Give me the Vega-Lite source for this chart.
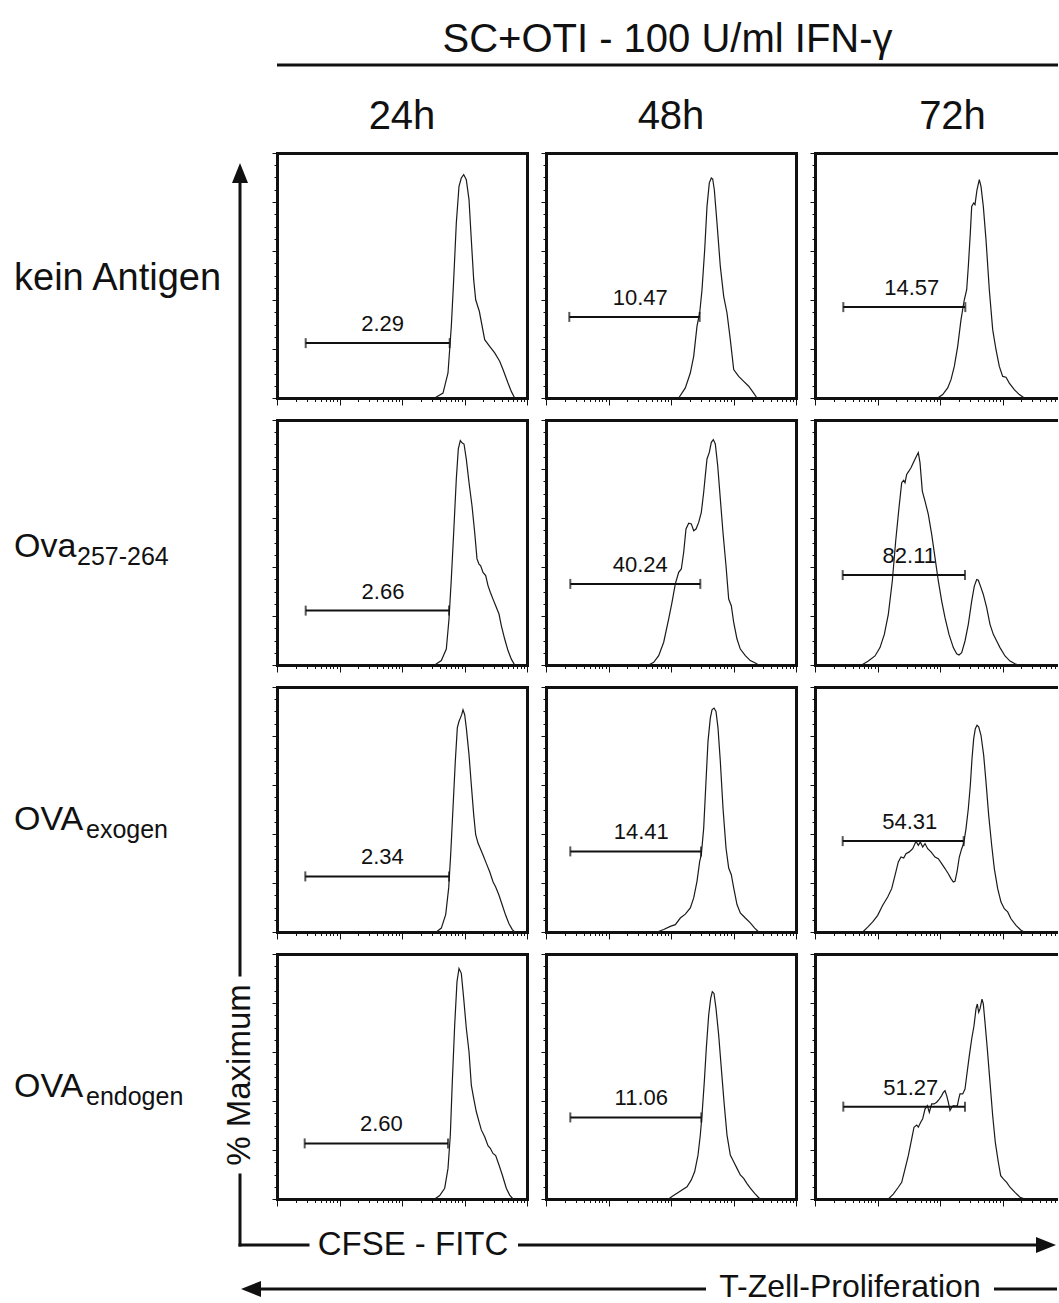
{
"$schema": "https://vega.github.io/schema/vega-lite/v6.json",
"background": "white",
"padding": 0,
"bounds": "flush",
"spacing": 0,
"config": {
  "font": "Liberation Sans",
  "view": {"stroke": null},
  "axis": {"grid": false, "labels": false, "domainColor": "#111", "domainWidth": 3, "domainCap": "square", "tickColor": "#111", "tickWidth": 1},
  "title": {"fontSize": 40, "fontWeight": "normal", "color": "#111", "anchor": "middle", "frame": "group", "baseline": "alphabetic", "offset": 16}
},
"datasets": {
"hist": [
{"cond":"kein","time":"24h","cfse_log":2.523,"pct":0},{"cond":"kein","time":"24h","cfse_log":2.656,"pct":2.0},{"cond":"kein","time":"24h","cfse_log":2.736,"pct":10.2},{"cond":"kein","time":"24h","cfse_log":2.789,"pct":29.3},{"cond":"kein","time":"24h","cfse_log":2.827,"pct":48.3},{"cond":"kein","time":"24h","cfse_log":2.869,"pct":71.4},{"cond":"kein","time":"24h","cfse_log":2.912,"pct":86.4},{"cond":"kein","time":"24h","cfse_log":2.949,"pct":89.8},{"cond":"kein","time":"24h","cfse_log":2.987,"pct":91.2},{"cond":"kein","time":"24h","cfse_log":3.029,"pct":89.1},{"cond":"kein","time":"24h","cfse_log":3.072,"pct":81.0},{"cond":"kein","time":"24h","cfse_log":3.109,"pct":64.6},{"cond":"kein","time":"24h","cfse_log":3.147,"pct":48.3},{"cond":"kein","time":"24h","cfse_log":3.179,"pct":40.1},{"cond":"kein","time":"24h","cfse_log":3.237,"pct":35.4},{"cond":"kein","time":"24h","cfse_log":3.323,"pct":23.8},{"cond":"kein","time":"24h","cfse_log":3.403,"pct":21.1},{"cond":"kein","time":"24h","cfse_log":3.483,"pct":18.4},{"cond":"kein","time":"24h","cfse_log":3.563,"pct":15.0},{"cond":"kein","time":"24h","cfse_log":3.616,"pct":11.6},{"cond":"kein","time":"24h","cfse_log":3.696,"pct":6.1},{"cond":"kein","time":"24h","cfse_log":3.749,"pct":2.7},{"cond":"kein","time":"24h","cfse_log":3.803,"pct":0},
{"cond":"kein","time":"48h","cfse_log":2.123,"pct":0},{"cond":"kein","time":"48h","cfse_log":2.229,"pct":4.1},{"cond":"kein","time":"48h","cfse_log":2.309,"pct":10.2},{"cond":"kein","time":"48h","cfse_log":2.363,"pct":17.0},{"cond":"kein","time":"48h","cfse_log":2.416,"pct":29.3},{"cond":"kein","time":"48h","cfse_log":2.459,"pct":34.7},{"cond":"kein","time":"48h","cfse_log":2.496,"pct":44.2},{"cond":"kein","time":"48h","cfse_log":2.539,"pct":60.5},{"cond":"kein","time":"48h","cfse_log":2.576,"pct":78.2},{"cond":"kein","time":"48h","cfse_log":2.613,"pct":87.8},{"cond":"kein","time":"48h","cfse_log":2.645,"pct":89.8},{"cond":"kein","time":"48h","cfse_log":2.667,"pct":89.4},{"cond":"kein","time":"48h","cfse_log":2.693,"pct":85.0},{"cond":"kein","time":"48h","cfse_log":2.736,"pct":71.4},{"cond":"kein","time":"48h","cfse_log":2.789,"pct":53.7},{"cond":"kein","time":"48h","cfse_log":2.843,"pct":41.5},{"cond":"kein","time":"48h","cfse_log":2.896,"pct":34.7},{"cond":"kein","time":"48h","cfse_log":2.949,"pct":23.8},{"cond":"kein","time":"48h","cfse_log":3.003,"pct":11.6},{"cond":"kein","time":"48h","cfse_log":3.083,"pct":8.8},{"cond":"kein","time":"48h","cfse_log":3.163,"pct":6.8},{"cond":"kein","time":"48h","cfse_log":3.243,"pct":4.8},{"cond":"kein","time":"48h","cfse_log":3.323,"pct":2.0},{"cond":"kein","time":"48h","cfse_log":3.376,"pct":0},
{"cond":"kein","time":"72h","cfse_log":1.963,"pct":0},{"cond":"kein","time":"72h","cfse_log":2.043,"pct":1.4},{"cond":"kein","time":"72h","cfse_log":2.123,"pct":4.1},{"cond":"kein","time":"72h","cfse_log":2.176,"pct":7.5},{"cond":"kein","time":"72h","cfse_log":2.229,"pct":12.9},{"cond":"kein","time":"72h","cfse_log":2.283,"pct":21.1},{"cond":"kein","time":"72h","cfse_log":2.336,"pct":32.0},{"cond":"kein","time":"72h","cfse_log":2.389,"pct":40.1},{"cond":"kein","time":"72h","cfse_log":2.427,"pct":44.2},{"cond":"kein","time":"72h","cfse_log":2.453,"pct":53.7},{"cond":"kein","time":"72h","cfse_log":2.485,"pct":67.3},{"cond":"kein","time":"72h","cfse_log":2.507,"pct":78.2},{"cond":"kein","time":"72h","cfse_log":2.539,"pct":79.6},{"cond":"kein","time":"72h","cfse_log":2.560,"pct":78.9},{"cond":"kein","time":"72h","cfse_log":2.592,"pct":85.0},{"cond":"kein","time":"72h","cfse_log":2.629,"pct":89.1},{"cond":"kein","time":"72h","cfse_log":2.656,"pct":86.4},{"cond":"kein","time":"72h","cfse_log":2.693,"pct":78.2},{"cond":"kein","time":"72h","cfse_log":2.736,"pct":64.6},{"cond":"kein","time":"72h","cfse_log":2.789,"pct":44.2},{"cond":"kein","time":"72h","cfse_log":2.843,"pct":27.9},{"cond":"kein","time":"72h","cfse_log":2.896,"pct":19.7},{"cond":"kein","time":"72h","cfse_log":2.949,"pct":12.9},{"cond":"kein","time":"72h","cfse_log":3.003,"pct":8.8},{"cond":"kein","time":"72h","cfse_log":3.056,"pct":8.5},{"cond":"kein","time":"72h","cfse_log":3.109,"pct":6.1},{"cond":"kein","time":"72h","cfse_log":3.189,"pct":3.4},{"cond":"kein","time":"72h","cfse_log":3.269,"pct":1.4},{"cond":"kein","time":"72h","cfse_log":3.349,"pct":0},
{"cond":"ova","time":"24h","cfse_log":2.523,"pct":0},{"cond":"ova","time":"24h","cfse_log":2.629,"pct":1.8},{"cond":"ova","time":"24h","cfse_log":2.709,"pct":6.5},{"cond":"ova","time":"24h","cfse_log":2.752,"pct":18.8},{"cond":"ova","time":"24h","cfse_log":2.789,"pct":35.1},{"cond":"ova","time":"24h","cfse_log":2.827,"pct":54.1},{"cond":"ova","time":"24h","cfse_log":2.869,"pct":75.9},{"cond":"ova","time":"24h","cfse_log":2.901,"pct":88.2},{"cond":"ova","time":"24h","cfse_log":2.933,"pct":91.6},{"cond":"ova","time":"24h","cfse_log":2.965,"pct":90.6},{"cond":"ova","time":"24h","cfse_log":2.992,"pct":90.2},{"cond":"ova","time":"24h","cfse_log":3.029,"pct":84.0},{"cond":"ova","time":"24h","cfse_log":3.072,"pct":74.5},{"cond":"ova","time":"24h","cfse_log":3.120,"pct":65.0},{"cond":"ova","time":"24h","cfse_log":3.163,"pct":54.1},{"cond":"ova","time":"24h","cfse_log":3.200,"pct":43.3},{"cond":"ova","time":"24h","cfse_log":3.232,"pct":41.2},{"cond":"ova","time":"24h","cfse_log":3.259,"pct":40.5},{"cond":"ova","time":"24h","cfse_log":3.296,"pct":37.8},{"cond":"ova","time":"24h","cfse_log":3.339,"pct":36.5},{"cond":"ova","time":"24h","cfse_log":3.376,"pct":32.4},{"cond":"ova","time":"24h","cfse_log":3.413,"pct":29.7},{"cond":"ova","time":"24h","cfse_log":3.456,"pct":26.9},{"cond":"ova","time":"24h","cfse_log":3.499,"pct":24.2},{"cond":"ova","time":"24h","cfse_log":3.552,"pct":20.8},{"cond":"ova","time":"24h","cfse_log":3.589,"pct":16.1},{"cond":"ova","time":"24h","cfse_log":3.643,"pct":10.6},{"cond":"ova","time":"24h","cfse_log":3.696,"pct":5.9},{"cond":"ova","time":"24h","cfse_log":3.749,"pct":2.4},{"cond":"ova","time":"24h","cfse_log":3.803,"pct":0},
{"cond":"ova","time":"48h","cfse_log":1.643,"pct":0},{"cond":"ova","time":"48h","cfse_log":1.723,"pct":1.1},{"cond":"ova","time":"48h","cfse_log":1.803,"pct":3.8},{"cond":"ova","time":"48h","cfse_log":1.883,"pct":9.3},{"cond":"ova","time":"48h","cfse_log":1.963,"pct":18.8},{"cond":"ova","time":"48h","cfse_log":2.016,"pct":25.6},{"cond":"ova","time":"48h","cfse_log":2.069,"pct":33.1},{"cond":"ova","time":"48h","cfse_log":2.123,"pct":37.8},{"cond":"ova","time":"48h","cfse_log":2.165,"pct":39.2},{"cond":"ova","time":"48h","cfse_log":2.203,"pct":46.0},{"cond":"ova","time":"48h","cfse_log":2.240,"pct":55.5},{"cond":"ova","time":"48h","cfse_log":2.283,"pct":57.9},{"cond":"ova","time":"48h","cfse_log":2.325,"pct":57.6},{"cond":"ova","time":"48h","cfse_log":2.363,"pct":54.8},{"cond":"ova","time":"48h","cfse_log":2.400,"pct":55.5},{"cond":"ova","time":"48h","cfse_log":2.443,"pct":58.2},{"cond":"ova","time":"48h","cfse_log":2.485,"pct":62.3},{"cond":"ova","time":"48h","cfse_log":2.523,"pct":70.5},{"cond":"ova","time":"48h","cfse_log":2.549,"pct":77.3},{"cond":"ova","time":"48h","cfse_log":2.576,"pct":84.1},{"cond":"ova","time":"48h","cfse_log":2.613,"pct":86.8},{"cond":"ova","time":"48h","cfse_log":2.645,"pct":90.9},{"cond":"ova","time":"48h","cfse_log":2.677,"pct":92.0},{"cond":"ova","time":"48h","cfse_log":2.709,"pct":90.2},{"cond":"ova","time":"48h","cfse_log":2.747,"pct":81.4},{"cond":"ova","time":"48h","cfse_log":2.789,"pct":67.8},{"cond":"ova","time":"48h","cfse_log":2.832,"pct":54.1},{"cond":"ova","time":"48h","cfse_log":2.880,"pct":40.5},{"cond":"ova","time":"48h","cfse_log":2.923,"pct":26.9},{"cond":"ova","time":"48h","cfse_log":2.965,"pct":24.2},{"cond":"ova","time":"48h","cfse_log":3.003,"pct":17.4},{"cond":"ova","time":"48h","cfse_log":3.056,"pct":10.6},{"cond":"ova","time":"48h","cfse_log":3.109,"pct":6.5},{"cond":"ova","time":"48h","cfse_log":3.189,"pct":3.8},{"cond":"ova","time":"48h","cfse_log":3.269,"pct":1.8},{"cond":"ova","time":"48h","cfse_log":3.349,"pct":0.8},{"cond":"ova","time":"48h","cfse_log":3.403,"pct":0},
{"cond":"ova","time":"72h","cfse_log":0.747,"pct":0},{"cond":"ova","time":"72h","cfse_log":0.853,"pct":1.6},{"cond":"ova","time":"72h","cfse_log":0.960,"pct":3.7},{"cond":"ova","time":"72h","cfse_log":1.040,"pct":7.1},{"cond":"ova","time":"72h","cfse_log":1.109,"pct":12.5},{"cond":"ova","time":"72h","cfse_log":1.173,"pct":20.7},{"cond":"ova","time":"72h","cfse_log":1.237,"pct":34.3},{"cond":"ova","time":"72h","cfse_log":1.291,"pct":50.6},{"cond":"ova","time":"72h","cfse_log":1.344,"pct":64.2},{"cond":"ova","time":"72h","cfse_log":1.387,"pct":74.4},{"cond":"ova","time":"72h","cfse_log":1.419,"pct":75.4},{"cond":"ova","time":"72h","cfse_log":1.440,"pct":74.4},{"cond":"ova","time":"72h","cfse_log":1.467,"pct":77.8},{"cond":"ova","time":"72h","cfse_log":1.504,"pct":79.2},{"cond":"ova","time":"72h","cfse_log":1.536,"pct":80.5},{"cond":"ova","time":"72h","cfse_log":1.573,"pct":82.6},{"cond":"ova","time":"72h","cfse_log":1.611,"pct":84.6},{"cond":"ova","time":"72h","cfse_log":1.653,"pct":86.7},{"cond":"ova","time":"72h","cfse_log":1.680,"pct":82.6},{"cond":"ova","time":"72h","cfse_log":1.717,"pct":71.0},{"cond":"ova","time":"72h","cfse_log":1.760,"pct":66.9},{"cond":"ova","time":"72h","cfse_log":1.813,"pct":61.5},{"cond":"ova","time":"72h","cfse_log":1.867,"pct":53.3},{"cond":"ova","time":"72h","cfse_log":1.920,"pct":43.8},{"cond":"ova","time":"72h","cfse_log":1.973,"pct":34.3},{"cond":"ova","time":"72h","cfse_log":2.027,"pct":26.1},{"cond":"ova","time":"72h","cfse_log":2.080,"pct":19.3},{"cond":"ova","time":"72h","cfse_log":2.144,"pct":12.5},{"cond":"ova","time":"72h","cfse_log":2.213,"pct":7.1},{"cond":"ova","time":"72h","cfse_log":2.267,"pct":4.6},{"cond":"ova","time":"72h","cfse_log":2.304,"pct":4.1},{"cond":"ova","time":"72h","cfse_log":2.347,"pct":5.0},{"cond":"ova","time":"72h","cfse_log":2.400,"pct":9.8},{"cond":"ova","time":"72h","cfse_log":2.453,"pct":16.6},{"cond":"ova","time":"72h","cfse_log":2.507,"pct":26.1},{"cond":"ova","time":"72h","cfse_log":2.549,"pct":32.2},{"cond":"ova","time":"72h","cfse_log":2.587,"pct":34.9},{"cond":"ova","time":"72h","cfse_log":2.613,"pct":34.6},{"cond":"ova","time":"72h","cfse_log":2.656,"pct":31.6},{"cond":"ova","time":"72h","cfse_log":2.693,"pct":28.8},{"cond":"ova","time":"72h","cfse_log":2.747,"pct":23.4},{"cond":"ova","time":"72h","cfse_log":2.800,"pct":16.6},{"cond":"ova","time":"72h","cfse_log":2.853,"pct":12.5},{"cond":"ova","time":"72h","cfse_log":2.907,"pct":9.8},{"cond":"ova","time":"72h","cfse_log":2.960,"pct":7.1},{"cond":"ova","time":"72h","cfse_log":3.040,"pct":3.7},{"cond":"ova","time":"72h","cfse_log":3.120,"pct":1.6},{"cond":"ova","time":"72h","cfse_log":3.200,"pct":0.5},{"cond":"ova","time":"72h","cfse_log":3.253,"pct":0},
{"cond":"exo","time":"24h","cfse_log":2.549,"pct":0},{"cond":"exo","time":"24h","cfse_log":2.629,"pct":1.6},{"cond":"exo","time":"24h","cfse_log":2.699,"pct":7.1},{"cond":"exo","time":"24h","cfse_log":2.747,"pct":18.0},{"cond":"exo","time":"24h","cfse_log":2.779,"pct":31.6},{"cond":"exo","time":"24h","cfse_log":2.816,"pct":50.6},{"cond":"exo","time":"24h","cfse_log":2.853,"pct":69.7},{"cond":"exo","time":"24h","cfse_log":2.885,"pct":83.3},{"cond":"exo","time":"24h","cfse_log":2.912,"pct":86.0},{"cond":"exo","time":"24h","cfse_log":2.933,"pct":87.3},{"cond":"exo","time":"24h","cfse_log":2.955,"pct":88.7},{"cond":"exo","time":"24h","cfse_log":2.976,"pct":90.7},{"cond":"exo","time":"24h","cfse_log":3.003,"pct":88.7},{"cond":"exo","time":"24h","cfse_log":3.029,"pct":83.3},{"cond":"exo","time":"24h","cfse_log":3.072,"pct":72.4},{"cond":"exo","time":"24h","cfse_log":3.109,"pct":60.1},{"cond":"exo","time":"24h","cfse_log":3.147,"pct":47.9},{"cond":"exo","time":"24h","cfse_log":3.179,"pct":39.7},{"cond":"exo","time":"24h","cfse_log":3.216,"pct":36.3},{"cond":"exo","time":"24h","cfse_log":3.253,"pct":34.1},{"cond":"exo","time":"24h","cfse_log":3.296,"pct":31.4},{"cond":"exo","time":"24h","cfse_log":3.349,"pct":28.0},{"cond":"exo","time":"24h","cfse_log":3.403,"pct":24.6},{"cond":"exo","time":"24h","cfse_log":3.456,"pct":20.5},{"cond":"exo","time":"24h","cfse_log":3.499,"pct":18.4},{"cond":"exo","time":"24h","cfse_log":3.552,"pct":15.0},{"cond":"exo","time":"24h","cfse_log":3.605,"pct":10.9},{"cond":"exo","time":"24h","cfse_log":3.659,"pct":6.8},{"cond":"exo","time":"24h","cfse_log":3.712,"pct":3.4},{"cond":"exo","time":"24h","cfse_log":3.765,"pct":1.0},{"cond":"exo","time":"24h","cfse_log":3.803,"pct":0},
{"cond":"exo","time":"48h","cfse_log":1.776,"pct":0},{"cond":"exo","time":"48h","cfse_log":1.883,"pct":1.0},{"cond":"exo","time":"48h","cfse_log":1.989,"pct":2.3},{"cond":"exo","time":"48h","cfse_log":2.069,"pct":3.0},{"cond":"exo","time":"48h","cfse_log":2.149,"pct":5.7},{"cond":"exo","time":"48h","cfse_log":2.229,"pct":7.3},{"cond":"exo","time":"48h","cfse_log":2.309,"pct":9.8},{"cond":"exo","time":"48h","cfse_log":2.363,"pct":13.9},{"cond":"exo","time":"48h","cfse_log":2.416,"pct":20.7},{"cond":"exo","time":"48h","cfse_log":2.459,"pct":28.8},{"cond":"exo","time":"48h","cfse_log":2.485,"pct":31.6},{"cond":"exo","time":"48h","cfse_log":2.523,"pct":42.4},{"cond":"exo","time":"48h","cfse_log":2.560,"pct":61.5},{"cond":"exo","time":"48h","cfse_log":2.592,"pct":77.8},{"cond":"exo","time":"48h","cfse_log":2.629,"pct":87.3},{"cond":"exo","time":"48h","cfse_log":2.656,"pct":90.7},{"cond":"exo","time":"48h","cfse_log":2.688,"pct":91.4},{"cond":"exo","time":"48h","cfse_log":2.720,"pct":90.0},{"cond":"exo","time":"48h","cfse_log":2.752,"pct":83.3},{"cond":"exo","time":"48h","cfse_log":2.789,"pct":69.7},{"cond":"exo","time":"48h","cfse_log":2.832,"pct":50.6},{"cond":"exo","time":"48h","cfse_log":2.880,"pct":34.3},{"cond":"exo","time":"48h","cfse_log":2.923,"pct":26.1},{"cond":"exo","time":"48h","cfse_log":2.965,"pct":23.4},{"cond":"exo","time":"48h","cfse_log":3.003,"pct":18.0},{"cond":"exo","time":"48h","cfse_log":3.056,"pct":11.2},{"cond":"exo","time":"48h","cfse_log":3.109,"pct":7.8},{"cond":"exo","time":"48h","cfse_log":3.189,"pct":5.7},{"cond":"exo","time":"48h","cfse_log":3.269,"pct":3.7},{"cond":"exo","time":"48h","cfse_log":3.339,"pct":1.6},{"cond":"exo","time":"48h","cfse_log":3.403,"pct":0},
{"cond":"exo","time":"72h","cfse_log":0.763,"pct":0},{"cond":"exo","time":"72h","cfse_log":0.843,"pct":2.0},{"cond":"exo","time":"72h","cfse_log":0.923,"pct":4.1},{"cond":"exo","time":"72h","cfse_log":1.003,"pct":6.8},{"cond":"exo","time":"72h","cfse_log":1.083,"pct":10.9},{"cond":"exo","time":"72h","cfse_log":1.163,"pct":14.3},{"cond":"exo","time":"72h","cfse_log":1.227,"pct":17.7},{"cond":"exo","time":"72h","cfse_log":1.280,"pct":23.1},{"cond":"exo","time":"72h","cfse_log":1.333,"pct":28.6},{"cond":"exo","time":"72h","cfse_log":1.376,"pct":30.6},{"cond":"exo","time":"72h","cfse_log":1.419,"pct":30.2},{"cond":"exo","time":"72h","cfse_log":1.456,"pct":32.0},{"cond":"exo","time":"72h","cfse_log":1.509,"pct":32.7},{"cond":"exo","time":"72h","cfse_log":1.563,"pct":34.0},{"cond":"exo","time":"72h","cfse_log":1.616,"pct":37.0},{"cond":"exo","time":"72h","cfse_log":1.653,"pct":35.4},{"cond":"exo","time":"72h","cfse_log":1.685,"pct":36.7},{"cond":"exo","time":"72h","cfse_log":1.723,"pct":34.7},{"cond":"exo","time":"72h","cfse_log":1.760,"pct":36.1},{"cond":"exo","time":"72h","cfse_log":1.803,"pct":34.0},{"cond":"exo","time":"72h","cfse_log":1.856,"pct":32.7},{"cond":"exo","time":"72h","cfse_log":1.920,"pct":30.6},{"cond":"exo","time":"72h","cfse_log":1.973,"pct":29.9},{"cond":"exo","time":"72h","cfse_log":2.027,"pct":27.9},{"cond":"exo","time":"72h","cfse_log":2.080,"pct":25.9},{"cond":"exo","time":"72h","cfse_log":2.133,"pct":23.8},{"cond":"exo","time":"72h","cfse_log":2.176,"pct":21.8},{"cond":"exo","time":"72h","cfse_log":2.213,"pct":20.4},{"cond":"exo","time":"72h","cfse_log":2.240,"pct":20.7},{"cond":"exo","time":"72h","cfse_log":2.272,"pct":24.5},{"cond":"exo","time":"72h","cfse_log":2.309,"pct":30.6},{"cond":"exo","time":"72h","cfse_log":2.347,"pct":34.0},{"cond":"exo","time":"72h","cfse_log":2.379,"pct":36.1},{"cond":"exo","time":"72h","cfse_log":2.416,"pct":42.2},{"cond":"exo","time":"72h","cfse_log":2.453,"pct":50.3},{"cond":"exo","time":"72h","cfse_log":2.485,"pct":59.9},{"cond":"exo","time":"72h","cfse_log":2.512,"pct":70.7},{"cond":"exo","time":"72h","cfse_log":2.539,"pct":78.9},{"cond":"exo","time":"72h","cfse_log":2.565,"pct":83.0},{"cond":"exo","time":"72h","cfse_log":2.592,"pct":84.4},{"cond":"exo","time":"72h","cfse_log":2.619,"pct":83.7},{"cond":"exo","time":"72h","cfse_log":2.656,"pct":80.3},{"cond":"exo","time":"72h","cfse_log":2.699,"pct":72.1},{"cond":"exo","time":"72h","cfse_log":2.736,"pct":61.2},{"cond":"exo","time":"72h","cfse_log":2.779,"pct":47.6},{"cond":"exo","time":"72h","cfse_log":2.827,"pct":35.4},{"cond":"exo","time":"72h","cfse_log":2.869,"pct":25.9},{"cond":"exo","time":"72h","cfse_log":2.923,"pct":17.7},{"cond":"exo","time":"72h","cfse_log":2.976,"pct":12.2},{"cond":"exo","time":"72h","cfse_log":3.029,"pct":9.5},{"cond":"exo","time":"72h","cfse_log":3.083,"pct":8.2},{"cond":"exo","time":"72h","cfse_log":3.136,"pct":5.4},{"cond":"exo","time":"72h","cfse_log":3.216,"pct":2.7},{"cond":"exo","time":"72h","cfse_log":3.296,"pct":0.7},{"cond":"exo","time":"72h","cfse_log":3.349,"pct":0},
{"cond":"endo","time":"24h","cfse_log":2.523,"pct":0},{"cond":"endo","time":"24h","cfse_log":2.603,"pct":1.4},{"cond":"endo","time":"24h","cfse_log":2.683,"pct":4.4},{"cond":"endo","time":"24h","cfse_log":2.736,"pct":12.5},{"cond":"endo","time":"24h","cfse_log":2.773,"pct":26.1},{"cond":"endo","time":"24h","cfse_log":2.805,"pct":47.9},{"cond":"endo","time":"24h","cfse_log":2.843,"pct":71.0},{"cond":"endo","time":"24h","cfse_log":2.880,"pct":88.7},{"cond":"endo","time":"24h","cfse_log":2.912,"pct":94.1},{"cond":"endo","time":"24h","cfse_log":2.949,"pct":92.1},{"cond":"endo","time":"24h","cfse_log":2.987,"pct":81.9},{"cond":"endo","time":"24h","cfse_log":3.029,"pct":69.7},{"cond":"endo","time":"24h","cfse_log":3.072,"pct":60.1},{"cond":"endo","time":"24h","cfse_log":3.109,"pct":46.5},{"cond":"endo","time":"24h","cfse_log":3.147,"pct":41.1},{"cond":"endo","time":"24h","cfse_log":3.189,"pct":35.6},{"cond":"endo","time":"24h","cfse_log":3.232,"pct":31.6},{"cond":"endo","time":"24h","cfse_log":3.269,"pct":28.2},{"cond":"endo","time":"24h","cfse_log":3.323,"pct":25.4},{"cond":"endo","time":"24h","cfse_log":3.376,"pct":21.8},{"cond":"endo","time":"24h","cfse_log":3.413,"pct":20.7},{"cond":"endo","time":"24h","cfse_log":3.456,"pct":18.6},{"cond":"endo","time":"24h","cfse_log":3.499,"pct":17.7},{"cond":"endo","time":"24h","cfse_log":3.552,"pct":13.9},{"cond":"endo","time":"24h","cfse_log":3.605,"pct":9.8},{"cond":"endo","time":"24h","cfse_log":3.669,"pct":4.4},{"cond":"endo","time":"24h","cfse_log":3.723,"pct":1.6},{"cond":"endo","time":"24h","cfse_log":3.776,"pct":0},
{"cond":"endo","time":"48h","cfse_log":1.963,"pct":0},{"cond":"endo","time":"48h","cfse_log":2.016,"pct":1.0},{"cond":"endo","time":"48h","cfse_log":2.096,"pct":2.3},{"cond":"endo","time":"48h","cfse_log":2.176,"pct":3.7},{"cond":"endo","time":"48h","cfse_log":2.256,"pct":5.0},{"cond":"endo","time":"48h","cfse_log":2.325,"pct":7.8},{"cond":"endo","time":"48h","cfse_log":2.379,"pct":11.2},{"cond":"endo","time":"48h","cfse_log":2.432,"pct":17.9},{"cond":"endo","time":"48h","cfse_log":2.469,"pct":26.1},{"cond":"endo","time":"48h","cfse_log":2.496,"pct":34.3},{"cond":"endo","time":"48h","cfse_log":2.533,"pct":47.9},{"cond":"endo","time":"48h","cfse_log":2.565,"pct":61.5},{"cond":"endo","time":"48h","cfse_log":2.603,"pct":75.1},{"cond":"endo","time":"48h","cfse_log":2.635,"pct":81.9},{"cond":"endo","time":"48h","cfse_log":2.661,"pct":84.6},{"cond":"endo","time":"48h","cfse_log":2.688,"pct":83.9},{"cond":"endo","time":"48h","cfse_log":2.720,"pct":77.8},{"cond":"endo","time":"48h","cfse_log":2.763,"pct":66.9},{"cond":"endo","time":"48h","cfse_log":2.805,"pct":53.3},{"cond":"endo","time":"48h","cfse_log":2.848,"pct":39.7},{"cond":"endo","time":"48h","cfse_log":2.896,"pct":26.1},{"cond":"endo","time":"48h","cfse_log":2.949,"pct":17.9},{"cond":"endo","time":"48h","cfse_log":3.003,"pct":15.2},{"cond":"endo","time":"48h","cfse_log":3.056,"pct":12.5},{"cond":"endo","time":"48h","cfse_log":3.109,"pct":9.8},{"cond":"endo","time":"48h","cfse_log":3.163,"pct":8.4},{"cond":"endo","time":"48h","cfse_log":3.216,"pct":6.3},{"cond":"endo","time":"48h","cfse_log":3.269,"pct":4.4},{"cond":"endo","time":"48h","cfse_log":3.339,"pct":2.3},{"cond":"endo","time":"48h","cfse_log":3.403,"pct":0.5},{"cond":"endo","time":"48h","cfse_log":3.445,"pct":0},
{"cond":"endo","time":"72h","cfse_log":1.173,"pct":0},{"cond":"endo","time":"72h","cfse_log":1.253,"pct":2.0},{"cond":"endo","time":"72h","cfse_log":1.333,"pct":4.8},{"cond":"endo","time":"72h","cfse_log":1.387,"pct":6.8},{"cond":"endo","time":"72h","cfse_log":1.440,"pct":12.2},{"cond":"endo","time":"72h","cfse_log":1.493,"pct":17.7},{"cond":"endo","time":"72h","cfse_log":1.547,"pct":24.5},{"cond":"endo","time":"72h","cfse_log":1.584,"pct":29.3},{"cond":"endo","time":"72h","cfse_log":1.627,"pct":30.2},{"cond":"endo","time":"72h","cfse_log":1.653,"pct":29.3},{"cond":"endo","time":"72h","cfse_log":1.691,"pct":31.3},{"cond":"endo","time":"72h","cfse_log":1.723,"pct":32.7},{"cond":"endo","time":"72h","cfse_log":1.760,"pct":36.7},{"cond":"endo","time":"72h","cfse_log":1.797,"pct":38.1},{"cond":"endo","time":"72h","cfse_log":1.829,"pct":35.4},{"cond":"endo","time":"72h","cfse_log":1.867,"pct":38.8},{"cond":"endo","time":"72h","cfse_log":1.904,"pct":38.8},{"cond":"endo","time":"72h","cfse_log":1.947,"pct":39.5},{"cond":"endo","time":"72h","cfse_log":1.989,"pct":40.8},{"cond":"endo","time":"72h","cfse_log":2.027,"pct":42.2},{"cond":"endo","time":"72h","cfse_log":2.053,"pct":43.5},{"cond":"endo","time":"72h","cfse_log":2.080,"pct":44.2},{"cond":"endo","time":"72h","cfse_log":2.107,"pct":42.2},{"cond":"endo","time":"72h","cfse_log":2.133,"pct":39.5},{"cond":"endo","time":"72h","cfse_log":2.160,"pct":36.1},{"cond":"endo","time":"72h","cfse_log":2.187,"pct":37.4},{"cond":"endo","time":"72h","cfse_log":2.213,"pct":38.1},{"cond":"endo","time":"72h","cfse_log":2.245,"pct":37.9},{"cond":"endo","time":"72h","cfse_log":2.277,"pct":38.1},{"cond":"endo","time":"72h","cfse_log":2.299,"pct":40.8},{"cond":"endo","time":"72h","cfse_log":2.320,"pct":42.9},{"cond":"endo","time":"72h","cfse_log":2.363,"pct":42.9},{"cond":"endo","time":"72h","cfse_log":2.400,"pct":44.9},{"cond":"endo","time":"72h","cfse_log":2.427,"pct":50.3},{"cond":"endo","time":"72h","cfse_log":2.469,"pct":58.5},{"cond":"endo","time":"72h","cfse_log":2.507,"pct":65.3},{"cond":"endo","time":"72h","cfse_log":2.544,"pct":70.7},{"cond":"endo","time":"72h","cfse_log":2.576,"pct":77.6},{"cond":"endo","time":"72h","cfse_log":2.597,"pct":79.6},{"cond":"endo","time":"72h","cfse_log":2.619,"pct":76.2},{"cond":"endo","time":"72h","cfse_log":2.640,"pct":77.6},{"cond":"endo","time":"72h","cfse_log":2.672,"pct":81.6},{"cond":"endo","time":"72h","cfse_log":2.693,"pct":79.6},{"cond":"endo","time":"72h","cfse_log":2.720,"pct":72.1},{"cond":"endo","time":"72h","cfse_log":2.757,"pct":61.2},{"cond":"endo","time":"72h","cfse_log":2.800,"pct":47.6},{"cond":"endo","time":"72h","cfse_log":2.843,"pct":34.0},{"cond":"endo","time":"72h","cfse_log":2.885,"pct":23.1},{"cond":"endo","time":"72h","cfse_log":2.933,"pct":15.0},{"cond":"endo","time":"72h","cfse_log":2.971,"pct":9.5},{"cond":"endo","time":"72h","cfse_log":3.013,"pct":8.2},{"cond":"endo","time":"72h","cfse_log":3.067,"pct":6.8},{"cond":"endo","time":"72h","cfse_log":3.120,"pct":4.8},{"cond":"endo","time":"72h","cfse_log":3.200,"pct":2.7},{"cond":"endo","time":"72h","cfse_log":3.280,"pct":0.7},{"cond":"endo","time":"72h","cfse_log":3.360,"pct":0}
],
"gates": [
{"cond":"kein","time":"24h","gate_lo":0.459,"gate_hi":2.763,"gate_level":22.4,"label":"2.29","label_x":1.69},
{"cond":"kein","time":"48h","gate_lo":0.373,"gate_hi":2.459,"gate_level":33.1,"label":"10.47","label_x":1.509},
{"cond":"kein","time":"72h","gate_lo":0.453,"gate_hi":2.405,"gate_level":37.1,"label":"14.57","label_x":1.547},
{"cond":"ova","time":"24h","gate_lo":0.459,"gate_hi":2.752,"gate_level":22.2,"label":"2.66","label_x":1.696},
{"cond":"ova","time":"48h","gate_lo":0.389,"gate_hi":2.469,"gate_level":33.1,"label":"40.24","label_x":1.509},
{"cond":"ova","time":"72h","gate_lo":0.443,"gate_hi":2.4,"gate_level":36.7,"label":"82.11","label_x":1.509},
{"cond":"exo","time":"24h","gate_lo":0.453,"gate_hi":2.752,"gate_level":22.7,"label":"2.34","label_x":1.685},
{"cond":"exo","time":"48h","gate_lo":0.389,"gate_hi":2.48,"gate_level":32.9,"label":"14.41","label_x":1.525},
{"cond":"exo","time":"72h","gate_lo":0.443,"gate_hi":2.379,"gate_level":37.1,"label":"54.31","label_x":1.515},
{"cond":"endo","time":"24h","gate_lo":0.443,"gate_hi":2.736,"gate_level":22.7,"label":"2.60","label_x":1.669},
{"cond":"endo","time":"48h","gate_lo":0.389,"gate_hi":2.485,"gate_level":33.3,"label":"11.06","label_x":1.525},
{"cond":"endo","time":"72h","gate_lo":0.453,"gate_hi":2.4,"gate_level":37.7,"label":"51.27","label_x":1.531}
]
},
"hconcat": [
{
 "width": 277, "height": 1303,
 "data": {"values": [{}]},
 "layer": [
  {"mark": {"type": "text", "text": "kein Antigen", "fontSize": 38, "align": "left", "baseline": "alphabetic", "color": "#111"},
   "encoding": {"x": {"datum": 14, "type": "quantitative", "scale": {"domain": [0, 277], "nice": false, "zero": false}, "axis": null},
                "y": {"datum": 290, "type": "quantitative", "scale": {"domain": [0, 1303], "reverse": true, "nice": false, "zero": false}, "axis": null}}},
  {"mark": {"type": "text", "text": "Ova", "fontSize": 34, "align": "left", "baseline": "alphabetic", "color": "#111"},
   "encoding": {"x": {"datum": 14, "type": "quantitative", "axis": null}, "y": {"datum": 557, "type": "quantitative", "axis": null}}},
  {"mark": {"type": "text", "text": "257-264", "fontSize": 25, "align": "left", "baseline": "alphabetic", "color": "#111"},
   "encoding": {"x": {"datum": 77, "type": "quantitative", "axis": null}, "y": {"datum": 565, "type": "quantitative", "axis": null}}},
  {"mark": {"type": "text", "text": "OVA", "fontSize": 34, "align": "left", "baseline": "alphabetic", "color": "#111"},
   "encoding": {"x": {"datum": 14, "type": "quantitative", "axis": null}, "y": {"datum": 830, "type": "quantitative", "axis": null}}},
  {"mark": {"type": "text", "text": "exogen", "fontSize": 25, "align": "left", "baseline": "alphabetic", "color": "#111"},
   "encoding": {"x": {"datum": 86, "type": "quantitative", "axis": null}, "y": {"datum": 838, "type": "quantitative", "axis": null}}},
  {"mark": {"type": "text", "text": "OVA", "fontSize": 34, "align": "left", "baseline": "alphabetic", "color": "#111"},
   "encoding": {"x": {"datum": 14, "type": "quantitative", "axis": null}, "y": {"datum": 1097, "type": "quantitative", "axis": null}}},
  {"mark": {"type": "text", "text": "endogen", "fontSize": 25, "align": "left", "baseline": "alphabetic", "color": "#111"},
   "encoding": {"x": {"datum": 86, "type": "quantitative", "axis": null}, "y": {"datum": 1105, "type": "quantitative", "axis": null}}},
  {"mark": {"type": "rule", "color": "#111", "strokeWidth": 3, "strokeCap": "square"},
   "encoding": {"x": {"datum": 240, "type": "quantitative", "axis": null}, "y": {"datum": 181, "type": "quantitative", "axis": null}, "y2": {"datum": 975}}},
  {"mark": {"type": "rule", "color": "#111", "strokeWidth": 3, "strokeCap": "square"},
   "encoding": {"x": {"datum": 240, "type": "quantitative", "axis": null}, "y": {"datum": 1175, "type": "quantitative", "axis": null}, "y2": {"datum": 1245}}},
  {"mark": {"type": "point", "shape": "M0,-1L0.8,1L-0.8,1Z", "size": 400, "filled": true, "color": "#111", "opacity": 1},
   "encoding": {"x": {"datum": 240, "type": "quantitative", "axis": null}, "y": {"datum": 173, "type": "quantitative", "axis": null}}},
  {"mark": {"type": "text", "text": "% Maximum", "fontSize": 33, "angle": 270, "align": "center", "baseline": "middle", "color": "#111"},
   "encoding": {"x": {"datum": 240, "type": "quantitative", "axis": null}, "y": {"datum": 1075, "type": "quantitative", "axis": null}}},
  {"mark": {"type": "rule", "color": "#111", "strokeWidth": 3, "strokeCap": "square"},
   "encoding": {"x": {"datum": 240, "type": "quantitative", "axis": null}, "x2": {"datum": 308}, "y": {"datum": 1245, "type": "quantitative", "axis": null}}},
  {"mark": {"type": "rule", "color": "#111", "strokeWidth": 3},
   "encoding": {"x": {"datum": 518, "type": "quantitative", "axis": null}, "x2": {"datum": 1038}, "y": {"datum": 1245, "type": "quantitative", "axis": null}}},
  {"mark": {"type": "point", "shape": "M1,0L-1,-0.8L-1,0.8Z", "size": 400, "filled": true, "color": "#111", "opacity": 1},
   "encoding": {"x": {"datum": 1046, "type": "quantitative", "axis": null}, "y": {"datum": 1245, "type": "quantitative", "axis": null}}},
  {"mark": {"type": "text", "text": "CFSE - FITC", "fontSize": 33, "align": "center", "baseline": "middle", "color": "#111"},
   "encoding": {"x": {"datum": 413, "type": "quantitative", "axis": null}, "y": {"datum": 1245, "type": "quantitative", "axis": null}}},
  {"mark": {"type": "point", "shape": "M-1,0L1,-0.8L1,0.8Z", "size": 400, "filled": true, "color": "#111", "opacity": 1},
   "encoding": {"x": {"datum": 251, "type": "quantitative", "axis": null}, "y": {"datum": 1289, "type": "quantitative", "axis": null}}},
  {"mark": {"type": "rule", "color": "#111", "strokeWidth": 3},
   "encoding": {"x": {"datum": 259, "type": "quantitative", "axis": null}, "x2": {"datum": 706}, "y": {"datum": 1289, "type": "quantitative", "axis": null}}},
  {"mark": {"type": "rule", "color": "#111", "strokeWidth": 3},
   "encoding": {"x": {"datum": 994, "type": "quantitative", "axis": null}, "x2": {"datum": 1057}, "y": {"datum": 1289, "type": "quantitative", "axis": null}}},
  {"mark": {"type": "text", "text": "T-Zell-Proliferation", "fontSize": 32, "align": "center", "baseline": "middle", "color": "#111"},
   "encoding": {"x": {"datum": 850, "type": "quantitative", "axis": null}, "y": {"datum": 1287, "type": "quantitative", "axis": null}}}
 ]
},
{
 "bounds": "flush",
 "spacing": 88,
 "vconcat": [
  {
   "width": 781, "height": 65,
   "data": {"values": [{}]},
   "layer": [
    {"mark": {"type": "text", "text": "SC+OTI - 100 U/ml IFN-γ", "fontSize": 40, "align": "center", "baseline": "alphabetic", "color": "#111"},
     "encoding": {"y": {"datum": 52, "type": "quantitative", "scale": {"domain": [0, 65], "reverse": true, "nice": false, "zero": false}, "axis": null}}},
    {"mark": {"type": "rule", "color": "#111", "strokeWidth": 3},
     "encoding": {"y": {"datum": 65, "type": "quantitative", "axis": null}}}
   ]
  },
  {
   "bounds": "flush",
   "columns": 3,
   "spacing": {"row": 22, "column": 19},
   "concat": [
     {"width":250,"height":245,"title":{"text":"24h"},"resolve":{"axis":{"x":"independent","y":"independent"}},"layer":[
      {"data":{"name":"hist"},"transform":[{"filter":"datum.cond==='kein'&&datum.time==='24h'"}],"mark":{"type":"line","color":"#1a1a1a","strokeWidth":1.2},"encoding":{"x":{"field":"cfse_log","type":"quantitative","scale":{"domain":[0,4],"nice":false,"zero":false},"axis":{"orient":"bottom","title":null,"values":[0,1,2,3,4],"tickSize":7}},"y":{"field":"pct","type":"quantitative","scale":{"domain":[0,100],"nice":false},"axis":{"orient":"left","title":null,"values":[0,20,40,60,80,100],"tickSize":5}}}},
      {"data":{"name":"gates"},"transform":[{"filter":"datum.cond==='kein'&&datum.time==='24h'"}],"mark":{"type":"rule","color":"#111","strokeWidth":2},"encoding":{"x":{"field":"gate_lo","type":"quantitative","axis":{"orient":"top","title":null,"ticks":false}},"x2":{"field":"gate_hi"},"y":{"field":"gate_level","type":"quantitative","axis":{"orient":"right","title":null,"ticks":false}}}},
      {"data":{"name":"gates"},"transform":[{"filter":"datum.cond==='kein'&&datum.time==='24h'"}],"mark":{"type":"tick","orient":"vertical","size":10,"thickness":2,"color":"#111"},"encoding":{"x":{"field":"gate_lo","type":"quantitative","axis":{"orient":"bottom","title":null,"domain":false,"values":[0.301,0.477,0.602,0.699,0.778,0.845,0.903,0.954,1.301,1.477,1.602,1.699,1.778,1.845,1.903,1.954,2.301,2.477,2.602,2.699,2.778,2.845,2.903,2.954,3.301,3.477,3.602,3.699,3.778,3.845,3.903,3.954],"tickSize":3.5}},"y":{"field":"gate_level","type":"quantitative","axis":{"orient":"left","title":null,"domain":false,"values":[5,10,15,25,30,35,45,50,55,65,70,75,85,90,95],"tickSize":3}}}},
      {"data":{"name":"gates"},"transform":[{"filter":"datum.cond==='kein'&&datum.time==='24h'"}],"mark":{"type":"tick","orient":"vertical","size":10,"thickness":2,"color":"#111"},"encoding":{"x":{"field":"gate_hi","type":"quantitative","axis":null},"y":{"field":"gate_level","type":"quantitative","axis":null}}},
      {"data":{"name":"gates"},"transform":[{"filter":"datum.cond==='kein'&&datum.time==='24h'"}],"mark":{"type":"text","fontSize":22,"dy":-12,"baseline":"alphabetic","color":"#111"},"encoding":{"x":{"field":"label_x","type":"quantitative","axis":null},"y":{"field":"gate_level","type":"quantitative","axis":null},"text":{"field":"label"}}}
     ]},
     {"width":250,"height":245,"title":{"text":"48h"},"resolve":{"axis":{"x":"independent","y":"independent"}},"layer":[
      {"data":{"name":"hist"},"transform":[{"filter":"datum.cond==='kein'&&datum.time==='48h'"}],"mark":{"type":"line","color":"#1a1a1a","strokeWidth":1.2},"encoding":{"x":{"field":"cfse_log","type":"quantitative","scale":{"domain":[0,4],"nice":false,"zero":false},"axis":{"orient":"bottom","title":null,"values":[0,1,2,3,4],"tickSize":7}},"y":{"field":"pct","type":"quantitative","scale":{"domain":[0,100],"nice":false},"axis":{"orient":"left","title":null,"values":[0,20,40,60,80,100],"tickSize":5}}}},
      {"data":{"name":"gates"},"transform":[{"filter":"datum.cond==='kein'&&datum.time==='48h'"}],"mark":{"type":"rule","color":"#111","strokeWidth":2},"encoding":{"x":{"field":"gate_lo","type":"quantitative","axis":{"orient":"top","title":null,"ticks":false}},"x2":{"field":"gate_hi"},"y":{"field":"gate_level","type":"quantitative","axis":{"orient":"right","title":null,"ticks":false}}}},
      {"data":{"name":"gates"},"transform":[{"filter":"datum.cond==='kein'&&datum.time==='48h'"}],"mark":{"type":"tick","orient":"vertical","size":10,"thickness":2,"color":"#111"},"encoding":{"x":{"field":"gate_lo","type":"quantitative","axis":{"orient":"bottom","title":null,"domain":false,"values":[0.301,0.477,0.602,0.699,0.778,0.845,0.903,0.954,1.301,1.477,1.602,1.699,1.778,1.845,1.903,1.954,2.301,2.477,2.602,2.699,2.778,2.845,2.903,2.954,3.301,3.477,3.602,3.699,3.778,3.845,3.903,3.954],"tickSize":3.5}},"y":{"field":"gate_level","type":"quantitative","axis":{"orient":"left","title":null,"domain":false,"values":[5,10,15,25,30,35,45,50,55,65,70,75,85,90,95],"tickSize":3}}}},
      {"data":{"name":"gates"},"transform":[{"filter":"datum.cond==='kein'&&datum.time==='48h'"}],"mark":{"type":"tick","orient":"vertical","size":10,"thickness":2,"color":"#111"},"encoding":{"x":{"field":"gate_hi","type":"quantitative","axis":null},"y":{"field":"gate_level","type":"quantitative","axis":null}}},
      {"data":{"name":"gates"},"transform":[{"filter":"datum.cond==='kein'&&datum.time==='48h'"}],"mark":{"type":"text","fontSize":22,"dy":-12,"baseline":"alphabetic","color":"#111"},"encoding":{"x":{"field":"label_x","type":"quantitative","axis":null},"y":{"field":"gate_level","type":"quantitative","axis":null},"text":{"field":"label"}}}
     ]},
     {"width":241,"height":245,"title":{"text":"72h","dx":17},"resolve":{"axis":{"x":"independent","y":"independent"}},"layer":[
      {"data":{"name":"hist"},"transform":[{"filter":"datum.cond==='kein'&&datum.time==='72h'"}],"mark":{"type":"line","color":"#1a1a1a","strokeWidth":1.2},"encoding":{"x":{"field":"cfse_log","type":"quantitative","scale":{"domain":[0,3.856],"nice":false,"zero":false},"axis":{"orient":"bottom","title":null,"values":[0,1,2,3],"tickSize":7}},"y":{"field":"pct","type":"quantitative","scale":{"domain":[0,100],"nice":false},"axis":{"orient":"left","title":null,"values":[0,20,40,60,80,100],"tickSize":5}}}},
      {"data":{"name":"gates"},"transform":[{"filter":"datum.cond==='kein'&&datum.time==='72h'"}],"mark":{"type":"rule","color":"#111","strokeWidth":2},"encoding":{"x":{"field":"gate_lo","type":"quantitative","axis":{"orient":"top","title":null,"ticks":false}},"x2":{"field":"gate_hi"},"y":{"field":"gate_level","type":"quantitative","axis":null}}},
      {"data":{"name":"gates"},"transform":[{"filter":"datum.cond==='kein'&&datum.time==='72h'"}],"mark":{"type":"tick","orient":"vertical","size":10,"thickness":2,"color":"#111"},"encoding":{"x":{"field":"gate_lo","type":"quantitative","axis":{"orient":"bottom","title":null,"domain":false,"values":[0.301,0.477,0.602,0.699,0.778,0.845,0.903,0.954,1.301,1.477,1.602,1.699,1.778,1.845,1.903,1.954,2.301,2.477,2.602,2.699,2.778,2.845,2.903,2.954,3.301,3.477,3.602,3.699,3.778,3.845],"tickSize":3.5}},"y":{"field":"gate_level","type":"quantitative","axis":{"orient":"left","title":null,"domain":false,"values":[5,10,15,25,30,35,45,50,55,65,70,75,85,90,95],"tickSize":3}}}},
      {"data":{"name":"gates"},"transform":[{"filter":"datum.cond==='kein'&&datum.time==='72h'"}],"mark":{"type":"tick","orient":"vertical","size":10,"thickness":2,"color":"#111"},"encoding":{"x":{"field":"gate_hi","type":"quantitative","axis":null},"y":{"field":"gate_level","type":"quantitative","axis":null}}},
      {"data":{"name":"gates"},"transform":[{"filter":"datum.cond==='kein'&&datum.time==='72h'"}],"mark":{"type":"text","fontSize":22,"dy":-12,"baseline":"alphabetic","color":"#111"},"encoding":{"x":{"field":"label_x","type":"quantitative","axis":null},"y":{"field":"gate_level","type":"quantitative","axis":null},"text":{"field":"label"}}}
     ]},
     {"width":250,"height":245,"resolve":{"axis":{"x":"independent","y":"independent"}},"layer":[
      {"data":{"name":"hist"},"transform":[{"filter":"datum.cond==='ova'&&datum.time==='24h'"}],"mark":{"type":"line","color":"#1a1a1a","strokeWidth":1.2},"encoding":{"x":{"field":"cfse_log","type":"quantitative","scale":{"domain":[0,4],"nice":false,"zero":false},"axis":{"orient":"bottom","title":null,"values":[0,1,2,3,4],"tickSize":7}},"y":{"field":"pct","type":"quantitative","scale":{"domain":[0,100],"nice":false},"axis":{"orient":"left","title":null,"values":[0,20,40,60,80,100],"tickSize":5}}}},
      {"data":{"name":"gates"},"transform":[{"filter":"datum.cond==='ova'&&datum.time==='24h'"}],"mark":{"type":"rule","color":"#111","strokeWidth":2},"encoding":{"x":{"field":"gate_lo","type":"quantitative","axis":{"orient":"top","title":null,"ticks":false}},"x2":{"field":"gate_hi"},"y":{"field":"gate_level","type":"quantitative","axis":{"orient":"right","title":null,"ticks":false}}}},
      {"data":{"name":"gates"},"transform":[{"filter":"datum.cond==='ova'&&datum.time==='24h'"}],"mark":{"type":"tick","orient":"vertical","size":10,"thickness":2,"color":"#111"},"encoding":{"x":{"field":"gate_lo","type":"quantitative","axis":{"orient":"bottom","title":null,"domain":false,"values":[0.301,0.477,0.602,0.699,0.778,0.845,0.903,0.954,1.301,1.477,1.602,1.699,1.778,1.845,1.903,1.954,2.301,2.477,2.602,2.699,2.778,2.845,2.903,2.954,3.301,3.477,3.602,3.699,3.778,3.845,3.903,3.954],"tickSize":3.5}},"y":{"field":"gate_level","type":"quantitative","axis":{"orient":"left","title":null,"domain":false,"values":[5,10,15,25,30,35,45,50,55,65,70,75,85,90,95],"tickSize":3}}}},
      {"data":{"name":"gates"},"transform":[{"filter":"datum.cond==='ova'&&datum.time==='24h'"}],"mark":{"type":"tick","orient":"vertical","size":10,"thickness":2,"color":"#111"},"encoding":{"x":{"field":"gate_hi","type":"quantitative","axis":null},"y":{"field":"gate_level","type":"quantitative","axis":null}}},
      {"data":{"name":"gates"},"transform":[{"filter":"datum.cond==='ova'&&datum.time==='24h'"}],"mark":{"type":"text","fontSize":22,"dy":-12,"baseline":"alphabetic","color":"#111"},"encoding":{"x":{"field":"label_x","type":"quantitative","axis":null},"y":{"field":"gate_level","type":"quantitative","axis":null},"text":{"field":"label"}}}
     ]},
     {"width":250,"height":245,"resolve":{"axis":{"x":"independent","y":"independent"}},"layer":[
      {"data":{"name":"hist"},"transform":[{"filter":"datum.cond==='ova'&&datum.time==='48h'"}],"mark":{"type":"line","color":"#1a1a1a","strokeWidth":1.2},"encoding":{"x":{"field":"cfse_log","type":"quantitative","scale":{"domain":[0,4],"nice":false,"zero":false},"axis":{"orient":"bottom","title":null,"values":[0,1,2,3,4],"tickSize":7}},"y":{"field":"pct","type":"quantitative","scale":{"domain":[0,100],"nice":false},"axis":{"orient":"left","title":null,"values":[0,20,40,60,80,100],"tickSize":5}}}},
      {"data":{"name":"gates"},"transform":[{"filter":"datum.cond==='ova'&&datum.time==='48h'"}],"mark":{"type":"rule","color":"#111","strokeWidth":2},"encoding":{"x":{"field":"gate_lo","type":"quantitative","axis":{"orient":"top","title":null,"ticks":false}},"x2":{"field":"gate_hi"},"y":{"field":"gate_level","type":"quantitative","axis":{"orient":"right","title":null,"ticks":false}}}},
      {"data":{"name":"gates"},"transform":[{"filter":"datum.cond==='ova'&&datum.time==='48h'"}],"mark":{"type":"tick","orient":"vertical","size":10,"thickness":2,"color":"#111"},"encoding":{"x":{"field":"gate_lo","type":"quantitative","axis":{"orient":"bottom","title":null,"domain":false,"values":[0.301,0.477,0.602,0.699,0.778,0.845,0.903,0.954,1.301,1.477,1.602,1.699,1.778,1.845,1.903,1.954,2.301,2.477,2.602,2.699,2.778,2.845,2.903,2.954,3.301,3.477,3.602,3.699,3.778,3.845,3.903,3.954],"tickSize":3.5}},"y":{"field":"gate_level","type":"quantitative","axis":{"orient":"left","title":null,"domain":false,"values":[5,10,15,25,30,35,45,50,55,65,70,75,85,90,95],"tickSize":3}}}},
      {"data":{"name":"gates"},"transform":[{"filter":"datum.cond==='ova'&&datum.time==='48h'"}],"mark":{"type":"tick","orient":"vertical","size":10,"thickness":2,"color":"#111"},"encoding":{"x":{"field":"gate_hi","type":"quantitative","axis":null},"y":{"field":"gate_level","type":"quantitative","axis":null}}},
      {"data":{"name":"gates"},"transform":[{"filter":"datum.cond==='ova'&&datum.time==='48h'"}],"mark":{"type":"text","fontSize":22,"dy":-12,"baseline":"alphabetic","color":"#111"},"encoding":{"x":{"field":"label_x","type":"quantitative","axis":null},"y":{"field":"gate_level","type":"quantitative","axis":null},"text":{"field":"label"}}}
     ]},
     {"width":241,"height":245,"resolve":{"axis":{"x":"independent","y":"independent"}},"layer":[
      {"data":{"name":"hist"},"transform":[{"filter":"datum.cond==='ova'&&datum.time==='72h'"}],"mark":{"type":"line","color":"#1a1a1a","strokeWidth":1.2},"encoding":{"x":{"field":"cfse_log","type":"quantitative","scale":{"domain":[0,3.856],"nice":false,"zero":false},"axis":{"orient":"bottom","title":null,"values":[0,1,2,3],"tickSize":7}},"y":{"field":"pct","type":"quantitative","scale":{"domain":[0,100],"nice":false},"axis":{"orient":"left","title":null,"values":[0,20,40,60,80,100],"tickSize":5}}}},
      {"data":{"name":"gates"},"transform":[{"filter":"datum.cond==='ova'&&datum.time==='72h'"}],"mark":{"type":"rule","color":"#111","strokeWidth":2},"encoding":{"x":{"field":"gate_lo","type":"quantitative","axis":{"orient":"top","title":null,"ticks":false}},"x2":{"field":"gate_hi"},"y":{"field":"gate_level","type":"quantitative","axis":null}}},
      {"data":{"name":"gates"},"transform":[{"filter":"datum.cond==='ova'&&datum.time==='72h'"}],"mark":{"type":"tick","orient":"vertical","size":10,"thickness":2,"color":"#111"},"encoding":{"x":{"field":"gate_lo","type":"quantitative","axis":{"orient":"bottom","title":null,"domain":false,"values":[0.301,0.477,0.602,0.699,0.778,0.845,0.903,0.954,1.301,1.477,1.602,1.699,1.778,1.845,1.903,1.954,2.301,2.477,2.602,2.699,2.778,2.845,2.903,2.954,3.301,3.477,3.602,3.699,3.778,3.845],"tickSize":3.5}},"y":{"field":"gate_level","type":"quantitative","axis":{"orient":"left","title":null,"domain":false,"values":[5,10,15,25,30,35,45,50,55,65,70,75,85,90,95],"tickSize":3}}}},
      {"data":{"name":"gates"},"transform":[{"filter":"datum.cond==='ova'&&datum.time==='72h'"}],"mark":{"type":"tick","orient":"vertical","size":10,"thickness":2,"color":"#111"},"encoding":{"x":{"field":"gate_hi","type":"quantitative","axis":null},"y":{"field":"gate_level","type":"quantitative","axis":null}}},
      {"data":{"name":"gates"},"transform":[{"filter":"datum.cond==='ova'&&datum.time==='72h'"}],"mark":{"type":"text","fontSize":22,"dy":-12,"baseline":"alphabetic","color":"#111"},"encoding":{"x":{"field":"label_x","type":"quantitative","axis":null},"y":{"field":"gate_level","type":"quantitative","axis":null},"text":{"field":"label"}}}
     ]},
     {"width":250,"height":245,"resolve":{"axis":{"x":"independent","y":"independent"}},"layer":[
      {"data":{"name":"hist"},"transform":[{"filter":"datum.cond==='exo'&&datum.time==='24h'"}],"mark":{"type":"line","color":"#1a1a1a","strokeWidth":1.2},"encoding":{"x":{"field":"cfse_log","type":"quantitative","scale":{"domain":[0,4],"nice":false,"zero":false},"axis":{"orient":"bottom","title":null,"values":[0,1,2,3,4],"tickSize":7}},"y":{"field":"pct","type":"quantitative","scale":{"domain":[0,100],"nice":false},"axis":{"orient":"left","title":null,"values":[0,20,40,60,80,100],"tickSize":5}}}},
      {"data":{"name":"gates"},"transform":[{"filter":"datum.cond==='exo'&&datum.time==='24h'"}],"mark":{"type":"rule","color":"#111","strokeWidth":2},"encoding":{"x":{"field":"gate_lo","type":"quantitative","axis":{"orient":"top","title":null,"ticks":false}},"x2":{"field":"gate_hi"},"y":{"field":"gate_level","type":"quantitative","axis":{"orient":"right","title":null,"ticks":false}}}},
      {"data":{"name":"gates"},"transform":[{"filter":"datum.cond==='exo'&&datum.time==='24h'"}],"mark":{"type":"tick","orient":"vertical","size":10,"thickness":2,"color":"#111"},"encoding":{"x":{"field":"gate_lo","type":"quantitative","axis":{"orient":"bottom","title":null,"domain":false,"values":[0.301,0.477,0.602,0.699,0.778,0.845,0.903,0.954,1.301,1.477,1.602,1.699,1.778,1.845,1.903,1.954,2.301,2.477,2.602,2.699,2.778,2.845,2.903,2.954,3.301,3.477,3.602,3.699,3.778,3.845,3.903,3.954],"tickSize":3.5}},"y":{"field":"gate_level","type":"quantitative","axis":{"orient":"left","title":null,"domain":false,"values":[5,10,15,25,30,35,45,50,55,65,70,75,85,90,95],"tickSize":3}}}},
      {"data":{"name":"gates"},"transform":[{"filter":"datum.cond==='exo'&&datum.time==='24h'"}],"mark":{"type":"tick","orient":"vertical","size":10,"thickness":2,"color":"#111"},"encoding":{"x":{"field":"gate_hi","type":"quantitative","axis":null},"y":{"field":"gate_level","type":"quantitative","axis":null}}},
      {"data":{"name":"gates"},"transform":[{"filter":"datum.cond==='exo'&&datum.time==='24h'"}],"mark":{"type":"text","fontSize":22,"dy":-12,"baseline":"alphabetic","color":"#111"},"encoding":{"x":{"field":"label_x","type":"quantitative","axis":null},"y":{"field":"gate_level","type":"quantitative","axis":null},"text":{"field":"label"}}}
     ]},
     {"width":250,"height":245,"resolve":{"axis":{"x":"independent","y":"independent"}},"layer":[
      {"data":{"name":"hist"},"transform":[{"filter":"datum.cond==='exo'&&datum.time==='48h'"}],"mark":{"type":"line","color":"#1a1a1a","strokeWidth":1.2},"encoding":{"x":{"field":"cfse_log","type":"quantitative","scale":{"domain":[0,4],"nice":false,"zero":false},"axis":{"orient":"bottom","title":null,"values":[0,1,2,3,4],"tickSize":7}},"y":{"field":"pct","type":"quantitative","scale":{"domain":[0,100],"nice":false},"axis":{"orient":"left","title":null,"values":[0,20,40,60,80,100],"tickSize":5}}}},
      {"data":{"name":"gates"},"transform":[{"filter":"datum.cond==='exo'&&datum.time==='48h'"}],"mark":{"type":"rule","color":"#111","strokeWidth":2},"encoding":{"x":{"field":"gate_lo","type":"quantitative","axis":{"orient":"top","title":null,"ticks":false}},"x2":{"field":"gate_hi"},"y":{"field":"gate_level","type":"quantitative","axis":{"orient":"right","title":null,"ticks":false}}}},
      {"data":{"name":"gates"},"transform":[{"filter":"datum.cond==='exo'&&datum.time==='48h'"}],"mark":{"type":"tick","orient":"vertical","size":10,"thickness":2,"color":"#111"},"encoding":{"x":{"field":"gate_lo","type":"quantitative","axis":{"orient":"bottom","title":null,"domain":false,"values":[0.301,0.477,0.602,0.699,0.778,0.845,0.903,0.954,1.301,1.477,1.602,1.699,1.778,1.845,1.903,1.954,2.301,2.477,2.602,2.699,2.778,2.845,2.903,2.954,3.301,3.477,3.602,3.699,3.778,3.845,3.903,3.954],"tickSize":3.5}},"y":{"field":"gate_level","type":"quantitative","axis":{"orient":"left","title":null,"domain":false,"values":[5,10,15,25,30,35,45,50,55,65,70,75,85,90,95],"tickSize":3}}}},
      {"data":{"name":"gates"},"transform":[{"filter":"datum.cond==='exo'&&datum.time==='48h'"}],"mark":{"type":"tick","orient":"vertical","size":10,"thickness":2,"color":"#111"},"encoding":{"x":{"field":"gate_hi","type":"quantitative","axis":null},"y":{"field":"gate_level","type":"quantitative","axis":null}}},
      {"data":{"name":"gates"},"transform":[{"filter":"datum.cond==='exo'&&datum.time==='48h'"}],"mark":{"type":"text","fontSize":22,"dy":-12,"baseline":"alphabetic","color":"#111"},"encoding":{"x":{"field":"label_x","type":"quantitative","axis":null},"y":{"field":"gate_level","type":"quantitative","axis":null},"text":{"field":"label"}}}
     ]},
     {"width":241,"height":245,"resolve":{"axis":{"x":"independent","y":"independent"}},"layer":[
      {"data":{"name":"hist"},"transform":[{"filter":"datum.cond==='exo'&&datum.time==='72h'"}],"mark":{"type":"line","color":"#1a1a1a","strokeWidth":1.2},"encoding":{"x":{"field":"cfse_log","type":"quantitative","scale":{"domain":[0,3.856],"nice":false,"zero":false},"axis":{"orient":"bottom","title":null,"values":[0,1,2,3],"tickSize":7}},"y":{"field":"pct","type":"quantitative","scale":{"domain":[0,100],"nice":false},"axis":{"orient":"left","title":null,"values":[0,20,40,60,80,100],"tickSize":5}}}},
      {"data":{"name":"gates"},"transform":[{"filter":"datum.cond==='exo'&&datum.time==='72h'"}],"mark":{"type":"rule","color":"#111","strokeWidth":2},"encoding":{"x":{"field":"gate_lo","type":"quantitative","axis":{"orient":"top","title":null,"ticks":false}},"x2":{"field":"gate_hi"},"y":{"field":"gate_level","type":"quantitative","axis":null}}},
      {"data":{"name":"gates"},"transform":[{"filter":"datum.cond==='exo'&&datum.time==='72h'"}],"mark":{"type":"tick","orient":"vertical","size":10,"thickness":2,"color":"#111"},"encoding":{"x":{"field":"gate_lo","type":"quantitative","axis":{"orient":"bottom","title":null,"domain":false,"values":[0.301,0.477,0.602,0.699,0.778,0.845,0.903,0.954,1.301,1.477,1.602,1.699,1.778,1.845,1.903,1.954,2.301,2.477,2.602,2.699,2.778,2.845,2.903,2.954,3.301,3.477,3.602,3.699,3.778,3.845],"tickSize":3.5}},"y":{"field":"gate_level","type":"quantitative","axis":{"orient":"left","title":null,"domain":false,"values":[5,10,15,25,30,35,45,50,55,65,70,75,85,90,95],"tickSize":3}}}},
      {"data":{"name":"gates"},"transform":[{"filter":"datum.cond==='exo'&&datum.time==='72h'"}],"mark":{"type":"tick","orient":"vertical","size":10,"thickness":2,"color":"#111"},"encoding":{"x":{"field":"gate_hi","type":"quantitative","axis":null},"y":{"field":"gate_level","type":"quantitative","axis":null}}},
      {"data":{"name":"gates"},"transform":[{"filter":"datum.cond==='exo'&&datum.time==='72h'"}],"mark":{"type":"text","fontSize":22,"dy":-12,"baseline":"alphabetic","color":"#111"},"encoding":{"x":{"field":"label_x","type":"quantitative","axis":null},"y":{"field":"gate_level","type":"quantitative","axis":null},"text":{"field":"label"}}}
     ]},
     {"width":250,"height":245,"resolve":{"axis":{"x":"independent","y":"independent"}},"layer":[
      {"data":{"name":"hist"},"transform":[{"filter":"datum.cond==='endo'&&datum.time==='24h'"}],"mark":{"type":"line","color":"#1a1a1a","strokeWidth":1.2},"encoding":{"x":{"field":"cfse_log","type":"quantitative","scale":{"domain":[0,4],"nice":false,"zero":false},"axis":{"orient":"bottom","title":null,"values":[0,1,2,3,4],"tickSize":7}},"y":{"field":"pct","type":"quantitative","scale":{"domain":[0,100],"nice":false},"axis":{"orient":"left","title":null,"values":[0,20,40,60,80,100],"tickSize":5}}}},
      {"data":{"name":"gates"},"transform":[{"filter":"datum.cond==='endo'&&datum.time==='24h'"}],"mark":{"type":"rule","color":"#111","strokeWidth":2},"encoding":{"x":{"field":"gate_lo","type":"quantitative","axis":{"orient":"top","title":null,"ticks":false}},"x2":{"field":"gate_hi"},"y":{"field":"gate_level","type":"quantitative","axis":{"orient":"right","title":null,"ticks":false}}}},
      {"data":{"name":"gates"},"transform":[{"filter":"datum.cond==='endo'&&datum.time==='24h'"}],"mark":{"type":"tick","orient":"vertical","size":10,"thickness":2,"color":"#111"},"encoding":{"x":{"field":"gate_lo","type":"quantitative","axis":{"orient":"bottom","title":null,"domain":false,"values":[0.301,0.477,0.602,0.699,0.778,0.845,0.903,0.954,1.301,1.477,1.602,1.699,1.778,1.845,1.903,1.954,2.301,2.477,2.602,2.699,2.778,2.845,2.903,2.954,3.301,3.477,3.602,3.699,3.778,3.845,3.903,3.954],"tickSize":3.5}},"y":{"field":"gate_level","type":"quantitative","axis":{"orient":"left","title":null,"domain":false,"values":[5,10,15,25,30,35,45,50,55,65,70,75,85,90,95],"tickSize":3}}}},
      {"data":{"name":"gates"},"transform":[{"filter":"datum.cond==='endo'&&datum.time==='24h'"}],"mark":{"type":"tick","orient":"vertical","size":10,"thickness":2,"color":"#111"},"encoding":{"x":{"field":"gate_hi","type":"quantitative","axis":null},"y":{"field":"gate_level","type":"quantitative","axis":null}}},
      {"data":{"name":"gates"},"transform":[{"filter":"datum.cond==='endo'&&datum.time==='24h'"}],"mark":{"type":"text","fontSize":22,"dy":-12,"baseline":"alphabetic","color":"#111"},"encoding":{"x":{"field":"label_x","type":"quantitative","axis":null},"y":{"field":"gate_level","type":"quantitative","axis":null},"text":{"field":"label"}}}
     ]},
     {"width":250,"height":245,"resolve":{"axis":{"x":"independent","y":"independent"}},"layer":[
      {"data":{"name":"hist"},"transform":[{"filter":"datum.cond==='endo'&&datum.time==='48h'"}],"mark":{"type":"line","color":"#1a1a1a","strokeWidth":1.2},"encoding":{"x":{"field":"cfse_log","type":"quantitative","scale":{"domain":[0,4],"nice":false,"zero":false},"axis":{"orient":"bottom","title":null,"values":[0,1,2,3,4],"tickSize":7}},"y":{"field":"pct","type":"quantitative","scale":{"domain":[0,100],"nice":false},"axis":{"orient":"left","title":null,"values":[0,20,40,60,80,100],"tickSize":5}}}},
      {"data":{"name":"gates"},"transform":[{"filter":"datum.cond==='endo'&&datum.time==='48h'"}],"mark":{"type":"rule","color":"#111","strokeWidth":2},"encoding":{"x":{"field":"gate_lo","type":"quantitative","axis":{"orient":"top","title":null,"ticks":false}},"x2":{"field":"gate_hi"},"y":{"field":"gate_level","type":"quantitative","axis":{"orient":"right","title":null,"ticks":false}}}},
      {"data":{"name":"gates"},"transform":[{"filter":"datum.cond==='endo'&&datum.time==='48h'"}],"mark":{"type":"tick","orient":"vertical","size":10,"thickness":2,"color":"#111"},"encoding":{"x":{"field":"gate_lo","type":"quantitative","axis":{"orient":"bottom","title":null,"domain":false,"values":[0.301,0.477,0.602,0.699,0.778,0.845,0.903,0.954,1.301,1.477,1.602,1.699,1.778,1.845,1.903,1.954,2.301,2.477,2.602,2.699,2.778,2.845,2.903,2.954,3.301,3.477,3.602,3.699,3.778,3.845,3.903,3.954],"tickSize":3.5}},"y":{"field":"gate_level","type":"quantitative","axis":{"orient":"left","title":null,"domain":false,"values":[5,10,15,25,30,35,45,50,55,65,70,75,85,90,95],"tickSize":3}}}},
      {"data":{"name":"gates"},"transform":[{"filter":"datum.cond==='endo'&&datum.time==='48h'"}],"mark":{"type":"tick","orient":"vertical","size":10,"thickness":2,"color":"#111"},"encoding":{"x":{"field":"gate_hi","type":"quantitative","axis":null},"y":{"field":"gate_level","type":"quantitative","axis":null}}},
      {"data":{"name":"gates"},"transform":[{"filter":"datum.cond==='endo'&&datum.time==='48h'"}],"mark":{"type":"text","fontSize":22,"dy":-12,"baseline":"alphabetic","color":"#111"},"encoding":{"x":{"field":"label_x","type":"quantitative","axis":null},"y":{"field":"gate_level","type":"quantitative","axis":null},"text":{"field":"label"}}}
     ]},
     {"width":241,"height":245,"resolve":{"axis":{"x":"independent","y":"independent"}},"layer":[
      {"data":{"name":"hist"},"transform":[{"filter":"datum.cond==='endo'&&datum.time==='72h'"}],"mark":{"type":"line","color":"#1a1a1a","strokeWidth":1.2},"encoding":{"x":{"field":"cfse_log","type":"quantitative","scale":{"domain":[0,3.856],"nice":false,"zero":false},"axis":{"orient":"bottom","title":null,"values":[0,1,2,3],"tickSize":7}},"y":{"field":"pct","type":"quantitative","scale":{"domain":[0,100],"nice":false},"axis":{"orient":"left","title":null,"values":[0,20,40,60,80,100],"tickSize":5}}}},
      {"data":{"name":"gates"},"transform":[{"filter":"datum.cond==='endo'&&datum.time==='72h'"}],"mark":{"type":"rule","color":"#111","strokeWidth":2},"encoding":{"x":{"field":"gate_lo","type":"quantitative","axis":{"orient":"top","title":null,"ticks":false}},"x2":{"field":"gate_hi"},"y":{"field":"gate_level","type":"quantitative","axis":null}}},
      {"data":{"name":"gates"},"transform":[{"filter":"datum.cond==='endo'&&datum.time==='72h'"}],"mark":{"type":"tick","orient":"vertical","size":10,"thickness":2,"color":"#111"},"encoding":{"x":{"field":"gate_lo","type":"quantitative","axis":{"orient":"bottom","title":null,"domain":false,"values":[0.301,0.477,0.602,0.699,0.778,0.845,0.903,0.954,1.301,1.477,1.602,1.699,1.778,1.845,1.903,1.954,2.301,2.477,2.602,2.699,2.778,2.845,2.903,2.954,3.301,3.477,3.602,3.699,3.778,3.845],"tickSize":3.5}},"y":{"field":"gate_level","type":"quantitative","axis":{"orient":"left","title":null,"domain":false,"values":[5,10,15,25,30,35,45,50,55,65,70,75,85,90,95],"tickSize":3}}}},
      {"data":{"name":"gates"},"transform":[{"filter":"datum.cond==='endo'&&datum.time==='72h'"}],"mark":{"type":"tick","orient":"vertical","size":10,"thickness":2,"color":"#111"},"encoding":{"x":{"field":"gate_hi","type":"quantitative","axis":null},"y":{"field":"gate_level","type":"quantitative","axis":null}}},
      {"data":{"name":"gates"},"transform":[{"filter":"datum.cond==='endo'&&datum.time==='72h'"}],"mark":{"type":"text","fontSize":22,"dy":-12,"baseline":"alphabetic","color":"#111"},"encoding":{"x":{"field":"label_x","type":"quantitative","axis":null},"y":{"field":"gate_level","type":"quantitative","axis":null},"text":{"field":"label"}}}
     ]}
   ]
  }
 ]
}
]
}
